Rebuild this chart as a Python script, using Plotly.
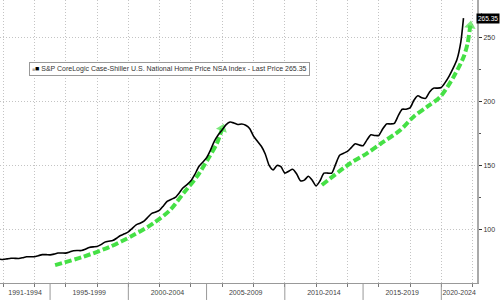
import plotly.graph_objects as go

# ---- data (decimal years; quarterly Jan/Apr/Jul/Oct readings, last = Jun 2021) ----
years = [1991.75] + [y + q / 4 for y in range(1992, 2021) for q in range(4)] + [2021.0, 2021.25, 2021.417]
index_values = [
    76.6,
    76.4, 76.9, 77.4, 77.3,
    77.2, 77.8, 78.5, 78.6,
    78.6, 79.4, 80.2, 80.2,
    80.0, 80.6, 81.5, 81.5,
    81.4, 82.3, 83.3, 83.4,
    83.4, 84.4, 85.8, 86.3,
    86.5, 88.0, 90.0, 90.7,
    91.2, 93.0, 95.2, 96.5,
    98.0, 100.8, 103.5, 104.8,
    106.5, 109.5, 112.5, 113.5,
    115.0, 118.5, 122.0, 123.5,
    125.0, 128.5, 132.5, 135.0,
    138.0, 143.0, 149.0, 152.5,
    156.0, 162.0, 169.0, 174.0,
    178.0, 182.0, 184.0, 183.2,
    182.0, 182.5, 181.5, 179.0,
    173.0, 169.0, 165.0, 159.0,
    150.0, 146.5, 150.0, 149.0,
    144.0, 145.5, 147.0, 143.5,
    138.0, 138.5, 141.5, 138.5,
    134.0, 138.0, 144.0, 144.0,
    144.0, 151.0, 158.0, 159.5,
    161.0, 164.0, 167.0, 166.0,
    165.5, 170.0, 174.0, 173.5,
    173.5, 178.5, 182.5, 182.5,
    183.0, 189.0, 194.0, 194.0,
    195.0, 201.0, 204.5, 203.0,
    202.5, 207.5, 210.5, 210.5,
    211.0, 215.0, 220.0, 226.0,
    233.0, 247.0, 265.35,
]
last_price = 265.35
series_name = "S&P CoreLogic Case-Shiller U.S. National Home Price NSA Index - Last Price 265.35"

period_labels = ["1991-1994", "1995-1999", "2000-2004", "2005-2009", "2010-2014", "2015-2019", "2020-2024"]
period_starts = [1991.80, 1995, 2000, 2005, 2010, 2015, 2020]
period_ends = [1995, 2000, 2005, 2010, 2015, 2020, 2022.28]

y_ticks = [100, 150, 200, 250]
y_minor = [125, 175, 225]
grid_years = list(range(1992, 2023, 2))

# green trend arrows (annotation paths)
arrow1_x = [1995.32, 1997.13, 1998.84, 2000.33, 2001.6, 2002.67, 2003.52, 2004.38, 2005.12, 2005.66, 2006.0]
arrow1_y = [72.0, 78.6, 86.4, 95.5, 104.7, 115.1, 128.2, 141.2, 155.6, 167.3, 179.0]
arrow2_x = [2012.37, 2014.18, 2015.25, 2016.1, 2017.38, 2018.23, 2019.1, 2019.94, 2020.79, 2021.43, 2021.68, 2021.85]
arrow2_y = [134.7, 151.7, 159.5, 166.8, 177.7, 188.2, 196.0, 203.8, 219.5, 235.1, 245.6, 259.5]

FONT = "Liberation Sans Narrow, Arial Narrow, Liberation Sans, Arial"
GREEN = "#45e045"
GRID = "#c4c4c4"
DOTS = "1px,2px"

fig = go.Figure()

for ax_, ay_ in [(arrow1_x, arrow1_y), (arrow2_x, arrow2_y)]:
    n = len(ax_)
    fig.add_trace(go.Scatter(
        x=ax_, y=ay_, mode="lines+markers",
        line=dict(color=GREEN, width=4, dash="7px,3px", shape="spline", smoothing=0.8),
        marker=dict(symbol="triangle-up", size=[0] * (n - 1) + [10], color=GREEN,
                    angleref="previous", line=dict(width=0)),
        hoverinfo="skip", showlegend=False,
    ))

fig.add_trace(go.Scatter(
    x=years, y=index_values, mode="lines", name=series_name,
    line=dict(color="black", width=1.6, shape="spline", smoothing=0.6),
    showlegend=False,
))

centers = [(a + b) / 2 for a, b in zip(period_starts, period_ends)]

fig.update_layout(
    width=500, height=300,
    margin=dict(l=0, r=23, t=0, b=17),
    paper_bgcolor="white", plot_bgcolor="white",
    font=dict(family=FONT, size=7, color="#444"),
    xaxis=dict(
        range=[1991.80, 2022.28], showgrid=False, zeroline=False,
        tickmode="array", tickvals=centers, ticktext=period_labels,
        ticks="", tickfont=dict(size=7, color="#444"), ticklabelstandoff=3,
        showline=True, linecolor="#999", linewidth=1,
        minor=dict(tickmode="array", tickvals=grid_years, showgrid=True,
                   gridcolor=GRID, griddash=DOTS, gridwidth=1,
                   ticks="outside", ticklen=3, tickcolor="#777"),
    ),
    yaxis=dict(
        range=[58.0, 279.5], side="right", zeroline=False,
        tickmode="array", tickvals=y_ticks,
        showgrid=True, gridcolor=GRID, griddash=DOTS, gridwidth=1,
        ticks="outside", ticklen=3, tickcolor="#333", tickwidth=1,
        tickfont=dict(size=7, color="#333"),
        showline=True, linecolor="#aaa", linewidth=2,
        minor=dict(tickmode="array", tickvals=y_minor, ticks="outside", ticklen=2,
                   tickcolor="#555", showgrid=False),
    ),
)

# period separators below the axis
for s in period_starts[1:]:
    fig.add_shape(type="line", xref="x", yref="paper", x0=s, x1=s, y0=0, y1=-0.06,
                  line=dict(color="#999", width=1))

# legend box
fig.add_annotation(
    xref="paper", yref="paper", x=29 / 477, y=1 - 69 / 283, xanchor="left", yanchor="middle",
    text="<span style='color:#aaa;font-size:5px'>■</span><span style='color:black'>■</span> " + series_name.replace("&", "&amp;"),
    showarrow=False, bgcolor="white", bordercolor="#999", borderwidth=1, borderpad=2,
    font=dict(family=FONT, size=7, color="#333"), align="left",
)

# last price tag
fig.add_annotation(
    xref="paper", yref="y", x=1 + 22.5 / 477, y=last_price, xanchor="right", yanchor="middle",
    text="265.35", showarrow=False, bgcolor="black", borderpad=1,
    font=dict(family=FONT, size=6.5, color="white"),
)
fig.add_shape(type="path", xref="paper", yref="y", xsizemode="pixel", ysizemode="pixel",
              xanchor=1, yanchor=last_price, path="M 0 0 L 5 -5 L 5 5 Z",
              fillcolor="black", line=dict(width=0))

fig.write_html("out.html")
